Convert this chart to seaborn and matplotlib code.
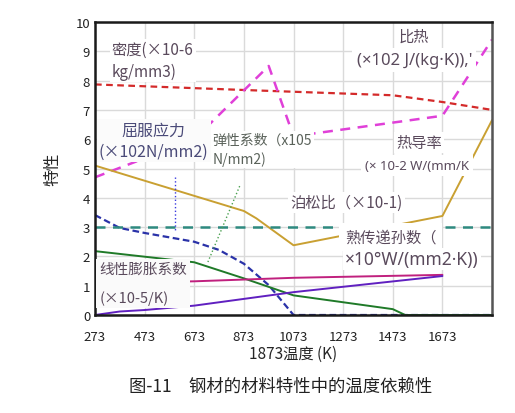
import matplotlib
matplotlib.use("Agg")
import matplotlib.pyplot as plt
import seaborn as sns

# temperature (K) and each property
temp_ticks = [273, 473, 673, 873, 1073, 1273, 1473, 1673, 1873]
tick_labels = ["273", "473", "673", "873", "1073", "1273", "1473", "1673", ""]

density_t = [273, 873, 1073, 1273, 1473, 1673, 1873]
density = [7.87, 7.68, 7.62, 7.56, 7.5, 7.27, 7.0]

spec_heat_t = [273, 673, 973, 1073, 1673, 1873]
spec_heat = [4.7, 6.0, 8.5, 6.1, 6.8, 9.4]

conduct_t = [273, 873, 923, 1073, 1673, 1873]
conduct = [5.1, 3.55, 3.3, 2.38, 3.38, 6.65]

yield_t = [273, 373, 473, 673, 773, 873, 973, 1073, 1873]
yield_s = [3.41, 2.97, 2.8, 2.5, 2.22, 1.75, 1.02, 0.0, 0.0]

poisson_t = [273, 1873]
poisson = [3.0, 3.0]

elastic_t = [273, 673, 873, 1073, 1473, 1523, 1873]
elastic = [2.18, 1.8, 1.25, 0.67, 0.2, 0.0, 0.0]

expansion_t = [273, 673, 1073, 1673]
expansion = [1.08, 1.15, 1.27, 1.37]

transfer_t = [273, 373, 473, 673, 1073, 1673]
transfer = [0.0, 0.12, 0.17, 0.32, 0.78, 1.33]

sns.set_theme(style="whitegrid")
plt.rcParams['font.family'] = ['Noto Sans CJK SC', 'DejaVu Sans']
latin = ['Noto Sans', 'Noto Sans CJK SC']

fig = plt.figure(figsize=(5.15, 4.14), dpi=100)
ax = fig.add_axes([0.1845, 0.2367, 0.7709, 0.7077])

sns.lineplot(x=density_t, y=density, color="#d42a2a", lw=1.6, ax=ax).lines[-1].set_dashes([3, 2])
sns.lineplot(x=spec_heat_t, y=spec_heat, color="#e040d8", lw=1.8, ax=ax).lines[-1].set_dashes([4, 3])
sns.lineplot(x=conduct_t, y=conduct, color="#c9a032", lw=1.4, ax=ax)
sns.lineplot(x=yield_t, y=yield_s, color="#2a32a8", lw=1.6, ax=ax).lines[-1].set_dashes([3, 1.6])
sns.lineplot(x=poisson_t, y=poisson, color="#2e8a80", lw=1.8, ax=ax).lines[-1].set_dashes([4, 3])
sns.lineplot(x=elastic_t, y=elastic, color="#1f7a28", lw=1.4, ax=ax)
sns.lineplot(x=expansion_t, y=expansion, color="#c0207e", lw=1.4, ax=ax)
sns.lineplot(x=transfer_t, y=transfer, color="#6020c0", lw=1.4, ax=ax)

# leader lines from labels
ax.plot([595, 595], [4.7, 2.83], color="#3a3ae0", lw=1.0, ls=":")
ax.plot([856, 728], [4.4, 1.81], color="#4aa050", lw=1.0, ls=":")

ax.set_xlim(273, 1873)
ax.set_ylim(0, 10)
ax.set_xticks(temp_ticks)
ax.set_xticklabels(tick_labels, fontsize=9)
ax.set_yticks(range(0, 11))
ax.tick_params(axis='both', length=0, labelsize=9.5, colors="#222222")
ax.tick_params(axis='x', pad=11)
ax.grid(True, color="#dadada", lw=1.0)
for side in ["left", "bottom", "top", "right"]:
    ax.spines[side].set_visible(True)
    ax.spines[side].set_color("#1a1a1a")
    ax.spines[side].set_linewidth(1.8)
ax.spines["right"].set_color("#555555")

ax.set_xlabel("1873温度 (K)", fontsize=11, labelpad=1)
ax.set_ylabel("特性", fontsize=12, labelpad=10)

box = dict(facecolor="white", edgecolor="none", pad=1.5)
txt = "#5a4a5c"
ax.text(340, 8.7, "密度(×10-6\nkg/mm3)", fontsize=11, color=txt, va="center", ha="left",
        linespacing=1.35, bbox=box, zorder=5)
ax.text(1560, 9.5, "比热", fontsize=11, color=txt, va="center", ha="center", bbox=box, zorder=5)
ax.text(1560, 8.7, "(×102 J/(kg·K)),'", fontsize=12, color=txt, va="center", ha="center",
        family=latin, bbox=dict(facecolor="white", edgecolor="none", pad=3), zorder=5)
ax.text(510, 5.95, "屈服应力\n(×102N/mm2)", fontsize=11.5, color="#4a4a78", va="center", ha="center",
        linespacing=1.35, bbox=dict(facecolor="#fbfbfb", edgecolor="none", pad=1.5), zorder=6)
ax.text(745, 5.65, "弹性系数（x105\nN/mm2)", fontsize=10, color="#5a625a", va="center", ha="left",
        linespacing=1.35, bbox=box, zorder=5)
ax.text(1580, 5.9, "热导率", fontsize=11, color=txt, va="center", ha="center", bbox=box, zorder=5)
ax.text(1570, 5.1, "(× 10-2 W/(mm/K", fontsize=9.5, color=txt, va="center", ha="center",
        family=latin, bbox=dict(facecolor="white", edgecolor="none", pad=3), zorder=5)
ax.text(1060, 3.85, "泊松比（×10-1)", fontsize=11, color=txt, va="center", ha="left", bbox=box, zorder=5)
ax.text(1280, 2.65, "熟传递孙数（", fontsize=11, color=txt, va="center", ha="left",
        bbox=dict(facecolor="white", edgecolor="none", pad=4), zorder=5)
ax.text(1280, 1.9, "×10°W/(mm2·K))", fontsize=12.5, color=txt, va="center", ha="left",
        family=latin, bbox=box, zorder=5)
ax.text(290, 1.08, "线性膨胀系数\n\n(×10-5/K)", fontsize=10.5, color=txt, va="center", ha="left",
        linespacing=1.0, bbox=dict(facecolor="#fafafa", edgecolor="none", pad=2), zorder=5)

fig.text(0.545, 0.065, "图-11　钢材的材料特性中的温度依赖性", fontsize=12.5, color="#222222",
         ha="center", va="center")

fig.savefig("out.png", dpi=100, facecolor="white")
